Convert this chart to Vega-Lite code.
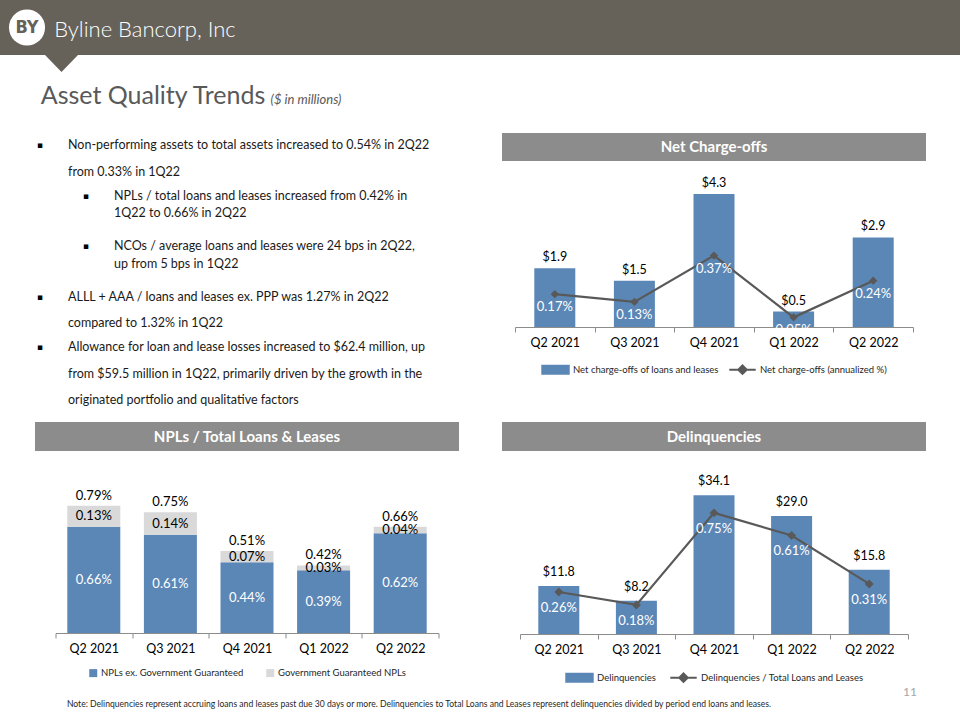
{
  "$schema": "https://vega.github.io/schema/vega-lite/v6.json",
  "padding": 0,
  "background": "white",
  "spacing": 0,
  "config": {
    "font": "Lato",
    "view": {"stroke": null},
    "legend": {"layout": {"bottom": {"anchor": "middle"}}, "labelFontSize": 9.5, "labelColor": "#262626", "offset": 12, "labelLimit": 320},
    "axis": {"labelFont": "Lato"}
  },
  "resolve": {"scale": {"color": "independent"}, "legend": {"color": "independent"}},
  "vconcat": [
    {
      "spacing": 0, "bounds": "flush",
      "hconcat": [
        {"width": 9, "height": 55, "view": {"fill": "#66625A"}, "data": {"values": []}, "mark": "point"},
        {"width": 36, "height": 55, "view": {"fill": "#66625A"}, "data": {"values": [{"t": "BY"}]},
          "layer": [
            {"mark": {"type": "point", "shape": "circle", "size": 1300, "filled": true, "color": "white", "opacity": 1}},
            {"mark": {"type": "text", "color": "#66625A", "fontSize": 18, "fontWeight": "bold", "font": "DejaVu Sans Condensed"}, "encoding": {"text": {"field": "t"}}}
          ]},
        {"width": 15, "height": 55, "view": {"fill": "#66625A"}, "data": {"values": []}, "mark": "point"},
        {"width": 175, "height": 55, "view": {"fill": "#66625A"}, "data": {"values": [{"t": "Byline Bancorp, Inc."}]},
          "mark": {"type": "text", "color": "white", "fontSize": 22, "fontWeight": 300, "dy": 2}, "encoding": {"text": {"field": "t"}}},
        {"width": 725, "height": 55, "view": {"fill": "#66625A"}, "data": {"values": []}, "mark": "point"}
      ]
    },
    {
      "spacing": 0, "bounds": "flush",
      "hconcat": [
        {"width": 45, "height": 17, "data": {"values": []}, "mark": "point"},
        {"width": 33, "height": 17, "data": {"values": [{}]},
          "mark": {"type": "point", "shape": "M-1,-0.515L1,-0.515L0,0.515Z", "size": 1089, "filled": true, "color": "#66625A", "opacity": 1, "strokeWidth": 0}}
      ]
    },
    {
      "spacing": 0, "bounds": "flush",
      "hconcat": [
        {"width": 42, "height": 61, "data": {"values": []}, "mark": "point"},
        {"width": 222, "height": 61, "data": {"values": [{"t": "Asset Quality Trends"}]},
          "mark": {"type": "text", "fontSize": 25, "color": "#595959", "baseline": "alphabetic", "dy": 1.5}, "encoding": {"text": {"field": "t"}}},
        {"width": 84, "height": 61, "data": {"values": [{"t": "($ in millions)"}]},
          "mark": {"type": "text", "fontSize": 13, "fontStyle": "italic", "color": "#595959", "baseline": "alphabetic", "dy": 1.5}, "encoding": {"text": {"field": "t"}}}
      ]
    },
    {
      "spacing": 0,
      "resolve": {"scale": {"color": "independent"}, "legend": {"color": "independent"}},
      "hconcat": [
        {"width": 35, "height": 1, "data": {"values": []}, "mark": "point"},
        {
          "spacing": 0, "bounds": "flush", "center": true,
          "resolve": {"scale": {"color": "independent"}, "legend": {"color": "independent"}},
          "vconcat": [
            {
              "width": 424, "height": 289,
              "data": {"values": [
                {"para": 1, "level": 1, "lines": ["Non-performing assets to total assets increased to 0.54% in 2Q22", "from 0.33% in 1Q22"]},
                {"para": 2, "level": 2, "lines": ["NPLs / total loans and leases increased from 0.42% in", "1Q22 to 0.66% in 2Q22"]},
                {"para": 3, "level": 2, "lines": ["NCOs / average loans and leases were 24 bps in 2Q22,", "up from 5 bps in 1Q22"]},
                {"para": 4, "level": 1, "lines": ["ALLL + AAA / loans and leases ex. PPP was 1.27% in 2Q22", "compared to 1.32% in 1Q22"]},
                {"para": 5, "level": 1, "lines": ["Allowance for loan and lease losses increased to $62.4 million, up", "from $59.5 million in 1Q22, primarily driven by the growth in the", "originated portfolio and qualitative factors"]}
              ]},
              "encoding": {
                "x": {"field": "level", "type": "quantitative", "scale": {"domain": [0.2826, 9.5], "nice": false, "zero": false}, "axis": null},
                "y": {"field": "para", "type": "quantitative", "scale": {"domain": [0.681, 6.404], "nice": false, "zero": false, "reverse": true}, "axis": null}
              },
              "layer": [
                {"mark": {"type": "text", "text": "▪", "fontSize": 9, "dx": -28, "dy": -1, "baseline": "alphabetic", "color": "black", "font": "DejaVu Sans"}},
                {"transform": [{"filter": "datum.level === 1"}],
                  "mark": {"type": "text", "align": "left", "baseline": "alphabetic", "fontSize": 12.5, "lineHeight": 26.5, "color": "#1a1a1a"},
                  "encoding": {"text": {"field": "lines"}}},
                {"transform": [{"filter": "datum.level === 2"}],
                  "mark": {"type": "text", "align": "left", "baseline": "alphabetic", "fontSize": 12.5, "lineHeight": 17.5, "color": "#1a1a1a"},
                  "encoding": {"text": {"field": "lines"}}}
              ]
            },
            {"width": 424, "height": 29, "view": {"fill": "#8C8C8C"}, "data": {"values": [{"t": "NPLs / Total Loans & Leases"}]},
              "mark": {"type": "text", "color": "white", "fontWeight": "bold", "fontSize": 15}, "encoding": {"text": {"field": "t"}}},
            {"width": 1, "height": 21, "data": {"values": []}, "mark": "point"},
            {
              "width": 383, "height": 161,
              "data": {"values": [
                {"q": "Q2 2021", "series": "NPLs ex. Government Guaranteed", "v": 0.0066},
                {"q": "Q2 2021", "series": "Government Guaranteed NPLs", "v": 0.0013},
                {"q": "Q3 2021", "series": "NPLs ex. Government Guaranteed", "v": 0.0061},
                {"q": "Q3 2021", "series": "Government Guaranteed NPLs", "v": 0.0014},
                {"q": "Q4 2021", "series": "NPLs ex. Government Guaranteed", "v": 0.0044},
                {"q": "Q4 2021", "series": "Government Guaranteed NPLs", "v": 0.0007},
                {"q": "Q1 2022", "series": "NPLs ex. Government Guaranteed", "v": 0.0039},
                {"q": "Q1 2022", "series": "Government Guaranteed NPLs", "v": 0.0003},
                {"q": "Q2 2022", "series": "NPLs ex. Government Guaranteed", "v": 0.0062},
                {"q": "Q2 2022", "series": "Government Guaranteed NPLs", "v": 0.0004}
              ]},
              "encoding": {
                "x": {"field": "q", "type": "nominal", "sort": null, "scale": {"paddingInner": 0, "paddingOuter": 0},
                  "axis": {"title": null, "labelAngle": 0, "tickBand": "extent", "domainColor": "#8c8c8c", "tickColor": "#8c8c8c", "labelFontSize": 12.5, "labelColor": "black", "tickSize": 5, "labelPadding": 4, "grid": false}}
              },
              "layer": [
                {"mark": {"type": "bar", "size": 53},
                  "encoding": {
                    "y": {"field": "v", "type": "quantitative", "stack": "zero", "scale": {"domain": [0, 0.01], "nice": false}, "axis": null},
                    "color": {"field": "series", "type": "nominal",
                      "scale": {"domain": ["NPLs ex. Government Guaranteed", "Government Guaranteed NPLs"], "range": ["#5B87B7", "#D9D9D9"]},
                      "legend": {"title": null, "orient": "bottom", "direction": "horizontal", "symbolType": "square", "symbolSize": 64, "columnPadding": 22, "labelOffset": 3, "symbolStrokeWidth": 0, "offset": 13}},
                    "order": {"field": "series", "sort": "descending"}
                  }},
                {"mark": {"type": "text", "fontSize": 13},
                  "encoding": {
                    "y": {"field": "v", "type": "quantitative", "stack": "zero", "bandPosition": 0.5},
                    "text": {"field": "v", "type": "quantitative", "format": ".2%"},
                    "color": {"condition": {"test": "datum.series === 'Government Guaranteed NPLs'", "value": "black"}, "value": "white"},
                    "order": {"field": "series", "sort": "descending"}
                  }},
                {"mark": {"type": "text", "fontSize": 13, "dy": -10, "color": "black"},
                  "encoding": {
                    "y": {"aggregate": "sum", "field": "v", "type": "quantitative"},
                    "text": {"aggregate": "sum", "field": "v", "type": "quantitative", "format": ".2%"}
                  }}
              ]
            }
          ]
        },
        {"width": 43, "height": 1, "data": {"values": []}, "mark": "point"},
        {
          "spacing": 0, "bounds": "flush", "center": true,
          "resolve": {"scale": {"color": "independent"}, "legend": {"color": "independent"}},
          "vconcat": [
            {"width": 424, "height": 28, "view": {"fill": "#8C8C8C"}, "data": {"values": [{"t": "Net Charge-offs"}]},
              "mark": {"type": "text", "color": "white", "fontWeight": "bold", "fontSize": 15}, "encoding": {"text": {"field": "t"}}},
            {"width": 1, "height": 16, "data": {"values": []}, "mark": "point"},
            {
              "width": 398, "height": 150,
              "data": {"values": [
                {"q": "Q2 2021", "amt": 1.9, "pct": 0.0017},
                {"q": "Q3 2021", "amt": 1.5, "pct": 0.0013},
                {"q": "Q4 2021", "amt": 4.3, "pct": 0.0037},
                {"q": "Q1 2022", "amt": 0.5, "pct": 0.0005},
                {"q": "Q2 2022", "amt": 2.9, "pct": 0.0024}
              ]},
              "encoding": {
                "x": {"field": "q", "type": "nominal", "sort": null, "scale": {"paddingInner": 0, "paddingOuter": 0},
                  "axis": {"title": null, "labelAngle": 0, "tickBand": "extent", "domainColor": "#8c8c8c", "tickColor": "#8c8c8c", "labelFontSize": 12.5, "labelColor": "black", "tickSize": 5, "labelPadding": 4, "grid": false}}
              },
              "layer": [
                {"layer": [
                  {"mark": {"type": "bar", "size": 41},
                    "encoding": {
                      "y": {"field": "amt", "type": "quantitative", "scale": {"domain": [0, 4.854], "nice": false}, "axis": null},
                      "color": {"datum": "Net charge-offs of loans and leases", "type": "nominal",
                        "scale": {"domain": ["Net charge-offs of loans and leases", "Net charge-offs (annualized %)"], "range": ["#5B87B7", "#595959"]},
                        "legend": {"title": null, "orient": "bottom", "direction": "horizontal", "symbolSize": 700, "labelOffset": 3, "columnPadding": 6, "symbolStrokeWidth": 2, "offset": 6,
                          "encode": {"symbols": {"update": {
                            "shape": {"signal": "datum.index === 0 ? 'M-1,-0.3H1V0.3H-1Z' : 'M-1,0H1M0,-0.32L0.32,0L0,0.32L-0.32,0Z'"},
                            "fill": {"signal": "datum.index === 0 ? '#5B87B7' : '#595959'"},
                            "stroke": {"signal": "datum.index === 0 ? 'transparent' : '#595959'"},
                            "strokeWidth": {"value": 2},
                            "opacity": {"value": 1}
                          }}}}}
                    }},
                  {"mark": {"type": "text", "fontSize": 12.5, "dy": -11, "color": "black"},
                    "encoding": {
                      "y": {"field": "amt", "type": "quantitative"},
                      "text": {"field": "amt", "type": "quantitative", "format": "$.1f"}
                    }}
                ]},
                {"layer": [
                  {"mark": {"type": "line", "strokeWidth": 2.2},
                    "encoding": {
                      "y": {"field": "pct", "type": "quantitative", "scale": {"domain": [0, 0.00777], "nice": false}, "axis": null},
                      "color": {"datum": "Net charge-offs (annualized %)", "type": "nominal"}
                    }},
                  {"mark": {"type": "point", "shape": "diamond", "filled": true, "size": 70, "color": "#595959", "opacity": 1},
                    "encoding": {"y": {"field": "pct", "type": "quantitative"}}},
                  {"mark": {"type": "text", "fontSize": 13, "dy": 13, "color": "white"},
                    "encoding": {
                      "y": {"field": "pct", "type": "quantitative"},
                      "text": {"field": "pct", "type": "quantitative", "format": ".2%"}
                    }}
                ]}
              ],
              "resolve": {"scale": {"y": "independent"}}
            },
            {"width": 1, "height": 95, "data": {"values": []}, "mark": "point"},
            {"width": 424, "height": 29, "view": {"fill": "#8C8C8C"}, "data": {"values": [{"t": "Delinquencies"}]},
              "mark": {"type": "text", "color": "white", "fontWeight": "bold", "fontSize": 15}, "encoding": {"text": {"field": "t"}}},
            {"width": 1, "height": 19, "data": {"values": []}, "mark": "point"},
            {
              "width": 388, "height": 164,
              "data": {"values": [
                {"q": "Q2 2021", "amt": 11.8, "pct": 0.0026},
                {"q": "Q3 2021", "amt": 8.2, "pct": 0.0018},
                {"q": "Q4 2021", "amt": 34.1, "pct": 0.0075},
                {"q": "Q1 2022", "amt": 29.0, "pct": 0.0061},
                {"q": "Q2 2022", "amt": 15.8, "pct": 0.0031}
              ]},
              "encoding": {
                "x": {"field": "q", "type": "nominal", "sort": null, "scale": {"paddingInner": 0, "paddingOuter": 0},
                  "axis": {"title": null, "labelAngle": 0, "tickBand": "extent", "domainColor": "#8c8c8c", "tickColor": "#8c8c8c", "labelFontSize": 12.5, "labelColor": "black", "tickSize": 5, "labelPadding": 4, "grid": false}}
              },
              "layer": [
                {"layer": [
                  {"mark": {"type": "bar", "size": 41},
                    "encoding": {
                      "y": {"field": "amt", "type": "quantitative", "scale": {"domain": [0, 40.3], "nice": false}, "axis": null},
                      "color": {"datum": "Delinquencies", "type": "nominal",
                        "scale": {"domain": ["Delinquencies", "Delinquencies / Total Loans and Leases"], "range": ["#5B87B7", "#595959"]},
                        "legend": {"title": null, "orient": "bottom", "direction": "horizontal", "symbolSize": 700, "labelOffset": 3, "columnPadding": 10, "symbolStrokeWidth": 2, "offset": 7,
                          "encode": {"symbols": {"update": {
                            "shape": {"signal": "datum.index === 0 ? 'M-1,-0.3H1V0.3H-1Z' : 'M-1,0H1M0,-0.32L0.32,0L0,0.32L-0.32,0Z'"},
                            "fill": {"signal": "datum.index === 0 ? '#5B87B7' : '#595959'"},
                            "stroke": {"signal": "datum.index === 0 ? 'transparent' : '#595959'"},
                            "strokeWidth": {"value": 2},
                            "opacity": {"value": 1}
                          }}}}}
                    }},
                  {"mark": {"type": "text", "fontSize": 12.5, "dy": -14, "color": "black"},
                    "encoding": {
                      "y": {"field": "amt", "type": "quantitative"},
                      "text": {"field": "amt", "type": "quantitative", "format": "$.1f"}
                    }}
                ]},
                {"layer": [
                  {"mark": {"type": "line", "strokeWidth": 2.2},
                    "encoding": {
                      "y": {"field": "pct", "type": "quantitative", "scale": {"domain": [0, 0.010155], "nice": false}, "axis": null},
                      "color": {"datum": "Delinquencies / Total Loans and Leases", "type": "nominal"}
                    }},
                  {"mark": {"type": "point", "shape": "diamond", "filled": true, "size": 80, "color": "#595959", "opacity": 1},
                    "encoding": {"y": {"field": "pct", "type": "quantitative"}}},
                  {"mark": {"type": "text", "fontSize": 13, "dy": 16, "color": "white"},
                    "encoding": {
                      "y": {"field": "pct", "type": "quantitative"},
                      "text": {"field": "pct", "type": "quantitative", "format": ".2%"}
                    }}
                ]}
              ],
              "resolve": {"scale": {"y": "independent"}}
            }
          ]
        }
      ]
    },
    {
      "spacing": 0, "bounds": "flush",
      "hconcat": [
        {"width": 900, "height": 8, "data": {"values": []}, "mark": "point"},
        {"width": 20, "height": 8, "data": {"values": [{"t": "11"}]},
          "mark": {"type": "text", "fontSize": 12, "color": "#A6A6A6"}, "encoding": {"text": {"field": "t"}}}
      ]
    },
    {
      "spacing": 0, "bounds": "flush",
      "hconcat": [
        {"width": 62, "height": 12, "data": {"values": []}, "mark": "point"},
        {"width": 714, "height": 12, "data": {"values": [{"t": "Note: Delinquencies represent accruing loans and leases past due 30 days or more. Delinquencies to Total Loans and Leases represent delinquencies divided by period end loans and leases."}]},
          "mark": {"type": "text", "fontSize": 8.6, "color": "#262626"}, "encoding": {"text": {"field": "t"}}}
      ]
    }
  ]
}
